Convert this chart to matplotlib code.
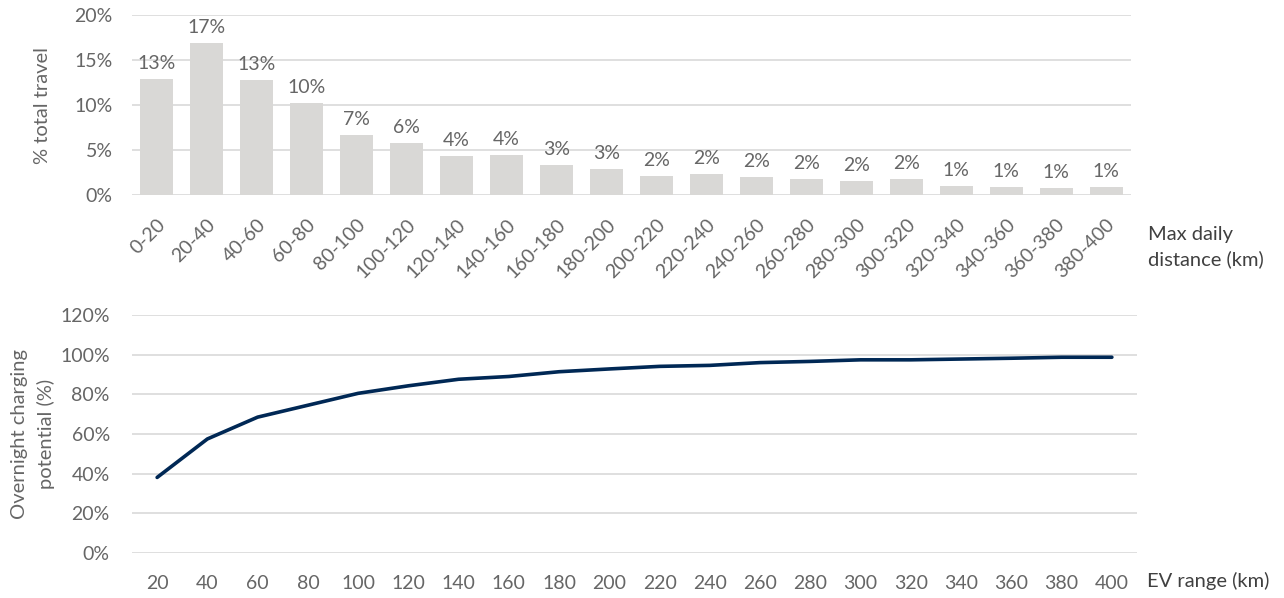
import matplotlib as mpl
mpl.use("Agg")
import matplotlib.pyplot as plt
import numpy as np

mpl.rcParams.update({
    "font.family": ["Lato", "DejaVu Sans"],
    "font.size": 13,
})

# ── Data ──────────────────────────────────────────────────────────────────────
DIST_BINS = ["0-20", "20-40", "40-60", "60-80", "80-100", "100-120", "120-140",
             "140-160", "160-180", "180-200", "200-220", "220-240", "240-260",
             "260-280", "280-300", "300-320", "320-340", "340-360", "360-380",
             "380-400"]
TRAVEL_SHARE = [12.85, 16.9, 12.8, 10.2, 6.7, 5.8, 4.35, 4.45, 3.3, 2.9,
                2.15, 2.35, 2.05, 1.75, 1.55, 1.75, 1.05, 0.93, 0.82, 0.9]

EV_RANGE = [20, 40, 60, 80, 100, 120, 140, 160, 180, 200,
            220, 240, 260, 280, 300, 320, 340, 360, 380, 400]
CHARGE_POTENTIAL = [38.1, 57.5, 68.5, 74.5, 80.5, 84.3, 87.6, 89.0, 91.4, 92.8,
                    94.1, 94.6, 96.0, 96.6, 97.4, 97.4, 97.8, 98.2, 98.7, 98.7]

# ── Colours ───────────────────────────────────────────────────────────────────
CLR_BAR = "#D9D8D6"
CLR_LINE = "#002855"
CLR_GRID = "#D9D9D9"
CLR_TICK = "#666666"
CLR_TITLE = "#404040"

TICK_FS = 14
W, H = 1284, 598
fig = plt.figure(figsize=(W / 100, H / 100), dpi=100)


def px_axes(x0, y_top, x1, y_bot):
    return fig.add_axes([x0 / W, 1 - y_bot / H, (x1 - x0) / W, (y_bot - y_top) / H])


def style(ax):
    for s in ax.spines.values():
        s.set_visible(False)
    ax.yaxis.grid(True, color=CLR_GRID, lw=1.2)
    ax.set_axisbelow(True)
    ax.tick_params(length=0, colors=CLR_TICK, labelsize=TICK_FS)


# ── Top: distribution of max daily distance ──────────────────────────────────
ax1 = px_axes(132, 15, 1131, 195)
x = np.arange(len(DIST_BINS))
bars = ax1.bar(x, TRAVEL_SHARE, width=0.66, color=CLR_BAR, zorder=2)
for b, v in zip(bars, TRAVEL_SHARE):
    ax1.annotate(f"{v:.0f}%", (b.get_x() + b.get_width() / 2, v),
                 xytext=(0, 5), textcoords="offset points",
                 ha="center", va="bottom", fontsize=TICK_FS, color=CLR_TICK)
ax1.set_xlim(-0.5, len(DIST_BINS) - 0.5)
ax1.set_ylim(0, 20)
ax1.set_yticks(np.arange(0, 21, 5))
ax1.set_yticklabels([f"{v}%" for v in range(0, 21, 5)])
ax1.set_xticks(x)
ax1.set_xticklabels(DIST_BINS, rotation=45, ha="right", rotation_mode="anchor")
style(ax1)
ax1.tick_params(axis="y", pad=14)
ax1.tick_params(axis="x", pad=15)
ax1.set_ylabel("% total travel", fontsize=14.5, color=CLR_TICK, labelpad=17)
fig.text(1148 / W, 1 - 247 / H, "Max daily\ndistance (km)", fontsize=14.5,
         color=CLR_TITLE, ha="left", va="center", linespacing=1.45)

# ── Bottom: overnight charging potential by EV range ─────────────────────────
ax2 = px_axes(132, 315, 1137, 553)
xi = np.arange(len(EV_RANGE))
ax2.plot(xi, CHARGE_POTENTIAL, color=CLR_LINE, lw=2.6, zorder=3,
         solid_capstyle="round")
ax2.set_xlim(-0.5, len(EV_RANGE) - 0.5)
ax2.set_ylim(0, 120)
ax2.set_yticks(np.arange(0, 121, 20))
ax2.set_yticklabels([f"{v}%" for v in range(0, 121, 20)])
ax2.set_xticks(xi)
ax2.set_xticklabels([str(v) for v in EV_RANGE])
style(ax2)
ax2.tick_params(axis="y", pad=16)
ax2.tick_params(axis="x", pad=16)
ax2.set_ylabel("Overnight charging\npotential (%)", fontsize=14.5,
               color=CLR_TICK, labelpad=4, linespacing=1.55)
fig.text(1147 / W, 1 - 581 / H, "EV range (km)", fontsize=14.5,
         color=CLR_TITLE, ha="left", va="center")

fig.savefig("out.png", dpi=100)
